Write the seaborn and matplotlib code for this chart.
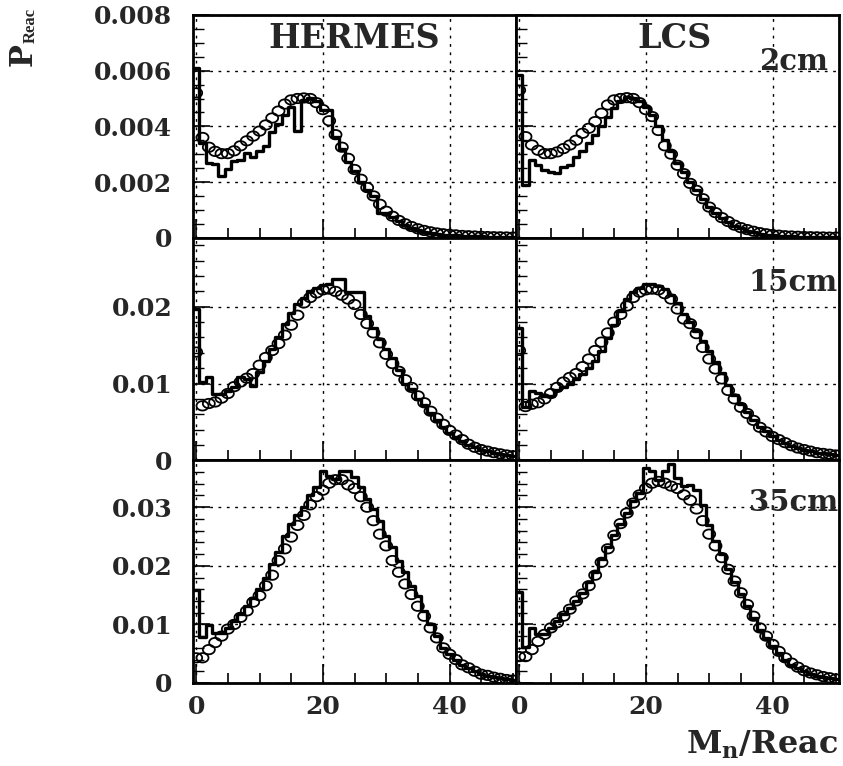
import numpy as np
import pandas as pd
import matplotlib
matplotlib.use("Agg")
import matplotlib.pyplot as plt
import seaborn as sns
from matplotlib.path import Path
from matplotlib.ticker import MultipleLocator, FuncFormatter

# neutron multiplicity per reaction (bins 0..50)
mult = np.arange(0, 51)

# values in units of 1e-3
hermes_2cm_hist = [6.1, 3.4, 2.7, 2.65, 2.2, 2.45, 2.75, 2.8, 3.05, 2.9, 3.1, 3.3, 3.8, 4.1, 4.4, 4.7,
                   3.85, 4.95, 5.0, 4.9, 4.6, 4.6, 3.6, 3.2, 2.72, 2.4, 2.0, 1.7, 1.5, 0.88, 0.88, 0.75,
                   0.6, 0.45, 0.35, 0.28, 0.22, 0.17, 0.13, 0.11, 0.09, 0.08, 0.07, 0.06, 0.05, 0.05, 0.04,
                   0.04, 0.03, 0.03, 0.03]
hermes_2cm_model = [5.2, 3.6, 3.25, 3.1, 3.02, 3.02, 3.12, 3.3, 3.48, 3.65, 3.83, 4.05, 4.3, 4.55, 4.8,
                    4.95, 5.0, 5.02, 5.0, 4.85, 4.6, 4.2, 3.7, 3.25, 2.85, 2.45, 2.1, 1.8, 1.5, 1.2, 0.95,
                    0.77, 0.62, 0.5, 0.4, 0.32, 0.26, 0.21, 0.17, 0.14, 0.12, 0.1, 0.08, 0.07, 0.06, 0.05,
                    0.04, 0.035, 0.03, 0.025, 0.02]
lcs_2cm_hist = [5.86, 1.88, 2.78, 2.6, 2.42, 2.36, 2.33, 2.55, 2.6, 2.9, 3.1, 3.4, 3.7, 4.0, 4.35, 4.65,
                4.9, 5.05, 5.0, 4.9, 4.7, 4.4, 4.0, 3.5, 3.1, 2.7, 2.35, 2.0, 1.7, 1.4, 1.1, 0.9, 0.72,
                0.56, 0.43, 0.33, 0.25, 0.19, 0.14, 0.11, 0.09, 0.07, 0.06, 0.05, 0.04, 0.035, 0.03,
                0.025, 0.02, 0.02, 0.015]
lcs_2cm_model = [5.3, 3.63, 3.33, 3.14, 3.02, 3.02, 3.08, 3.2, 3.33, 3.5, 3.75, 3.93, 4.17, 4.47, 4.77,
                 4.95, 5.0, 5.03, 5.0, 4.85, 4.6, 4.35, 3.85, 3.3, 3.0, 2.6, 2.3, 1.95, 1.7, 1.4, 1.1,
                 0.9, 0.72, 0.58, 0.45, 0.36, 0.29, 0.23, 0.18, 0.14, 0.11, 0.09, 0.07, 0.06, 0.05, 0.04,
                 0.035, 0.03, 0.025, 0.02, 0.02]
hermes_15cm_hist = [19.7, 10.2, 10.9, 8.6, 8.6, 9.0, 9.5, 10.8, 10.6, 9.7, 11.5, 13.0, 14.5, 16.0, 17.7,
                    19.2, 20.3, 21.2, 22.0, 22.5, 22.9, 23.0, 23.6, 23.6, 21.9, 21.9, 21.9, 18.8, 17.3,
                    15.8, 14.5, 13.3, 11.8, 10.0, 9.3, 8.0, 7.2, 6.2, 5.2, 4.4, 3.6, 3.0, 2.5, 2.0, 1.7,
                    1.4, 1.2, 1.0, 0.85, 0.7, 0.6]
hermes_15cm_model = [14.1, 7.1, 7.4, 7.6, 8.1, 8.7, 9.6, 10.2, 10.7, 11.3, 12.4, 13.4, 14.3, 15.2, 16.3,
                     17.6, 18.9, 20.5, 21.2, 21.8, 22.2, 22.3, 22.0, 21.5, 21.0, 20.3, 19.0, 17.8, 16.6,
                     15.3, 13.8, 12.6, 11.6, 10.5, 9.5, 8.4, 7.5, 6.4, 5.5, 4.7, 3.9, 3.3, 2.7, 2.1, 1.7,
                     1.4, 1.2, 1.0, 0.85, 0.7, 0.6]
lcs_15cm_hist = [17.3, 7.0, 9.0, 8.8, 8.4, 8.4, 9.2, 9.6, 10.0, 10.6, 11.3, 12.0, 13.0, 14.3, 15.9, 17.6,
                 19.5, 21.0, 21.9, 22.5, 23.0, 23.0, 22.7, 22.3, 21.5, 20.5, 19.0, 18.0, 16.8, 15.5, 14.3,
                 12.8, 11.4, 9.8, 8.5, 7.3, 6.3, 5.2, 4.4, 3.8, 3.2, 2.7, 2.3, 1.9, 1.6, 1.4, 1.2, 1.0,
                 0.9, 0.8, 0.7]
lcs_15cm_model = [14.3, 7.0, 7.3, 7.5, 8.0, 8.7, 9.5, 10.2, 10.8, 11.3, 12.2, 13.2, 14.3, 15.4, 16.6, 18.0,
                  19.0, 20.1, 21.2, 21.9, 22.2, 22.3, 22.2, 21.7, 21.0, 19.7, 18.4, 17.8, 16.5, 14.7, 13.2,
                  11.9, 10.6, 9.1, 8.0, 6.9, 6.1, 5.2, 4.3, 3.7, 3.1, 2.7, 2.3, 1.9, 1.6, 1.4, 1.2, 1.0,
                  0.9, 0.8, 0.7]
hermes_35cm_hist = [15.9, 7.9, 9.9, 8.5, 8.5, 9.4, 10.5, 11.7, 13.1, 14.5, 16.0, 18.0, 20.3, 22.3, 25.1,
                    27.1, 28.6, 30.0, 32.0, 33.4, 36.2, 35.4, 34.8, 36.2, 36.2, 35.1, 33.4, 31.4, 29.7,
                    27.7, 25.1, 23.2, 20.9, 18.9, 16.6, 14.9, 12.3, 10.0, 8.0, 6.0, 4.9, 4.0, 3.1, 2.6,
                    2.0, 1.5, 1.2, 1.0, 0.8, 0.6, 0.5]
hermes_35cm_model = [4.3, 4.3, 5.7, 6.9, 8.0, 9.2, 10.0, 11.2, 12.3, 13.8, 14.9, 16.6, 18.4, 20.9, 22.9,
                     24.9, 26.9, 28.6, 30.4, 31.8, 32.9, 34.1, 34.7, 34.7, 33.8, 33.2, 31.8, 30.0, 27.7,
                     25.4, 23.4, 20.9, 18.9, 16.9, 15.1, 13.1, 11.4, 9.4, 7.7, 6.0, 4.9, 4.0, 3.1, 2.6,
                     2.0, 1.5, 1.3, 1.0, 0.8, 0.6, 0.5]
lcs_35cm_hist = [15.6, 6.2, 9.4, 8.3, 8.3, 9.4, 10.5, 11.7, 12.8, 14.0, 15.4, 17.2, 18.9, 21.2, 23.2, 25.2,
                 27.2, 29.0, 31.0, 32.4, 36.7, 36.2, 34.7, 36.2, 37.3, 35.0, 33.6, 33.8, 33.0, 30.3, 26.9,
                 24.3, 22.0, 19.5, 17.2, 15.2, 13.1, 11.1, 9.1, 7.7, 6.3, 5.2, 4.0, 3.1, 2.6, 2.0, 1.5,
                 1.2, 1.0, 0.8, 0.6]
lcs_35cm_model = [4.5, 4.5, 5.7, 7.1, 8.3, 9.4, 10.3, 11.4, 12.6, 14.0, 15.2, 16.6, 18.4, 20.6, 22.9, 25.2,
                  27.2, 29.0, 30.7, 32.1, 33.2, 34.1, 34.4, 34.1, 33.6, 33.2, 32.1, 31.2, 29.7, 27.7, 25.4,
                  23.4, 21.4, 19.4, 17.4, 15.4, 13.4, 11.4, 9.4, 8.0, 6.6, 5.4, 4.3, 3.4, 2.7, 2.1, 1.7,
                  1.4, 1.1, 0.9, 0.7]

column_titles = ["HERMES", "LCS"]
row_labels = ["2cm", "15cm", "35cm"]
row_ylims = [0.008, 0.029, 0.038]
row_major = [0.002, 0.01, 0.01]
row_minor = [0.0005, 0.002, 0.002]

hists = [[hermes_2cm_hist, lcs_2cm_hist],
         [hermes_15cm_hist, lcs_15cm_hist],
         [hermes_35cm_hist, lcs_35cm_hist]]
models = [[hermes_2cm_model, lcs_2cm_model],
          [hermes_15cm_model, lcs_15cm_model],
          [hermes_35cm_model, lcs_35cm_model]]
scale = 1e-3

sns.set_style("ticks")
plt.rcParams["font.family"] = ["DejaVu Serif"]
plt.rcParams["font.weight"] = "bold"
plt.rcParams["mathtext.fontset"] = "dejavuserif"

W, H = 843, 766
fig, axes = plt.subplots(3, 2, figsize=(W / 100, H / 100), dpi=100,
                         gridspec_kw=dict(left=193 / W, right=839 / W, top=1 - 15 / H,
                                          bottom=1 - 683 / H, wspace=0, hspace=0))

theta = np.linspace(0, 2 * np.pi, 41)
ellipse = Path(np.column_stack([np.cos(theta), 0.78 * np.sin(theta)]), closed=True)
yfmt = FuncFormatter(lambda v, p: "0" if abs(v) < 1e-12 else f"{v:g}")

for r in range(3):
    for c in range(2):
        ax = axes[r, c]
        df = pd.DataFrame({"mult": mult,
                           "hist": np.asarray(hists[r][c], dtype=float) * scale,
                           "model": np.asarray(models[r][c], dtype=float) * scale})
        sns.histplot(data=df, x="mult", weights="hist", binwidth=1, binrange=(-0.5, 50.5),
                     element="step", fill=False, color="black", linewidth=2.4, ax=ax)
        sns.scatterplot(data=df, x="mult", y="model", marker=ellipse, s=75, facecolor="none",
                        edgecolor="black", linewidth=1.3, ax=ax, zorder=4)
        ax.set_xlim(-0.5, 50.5)
        ax.set_ylim(0, row_ylims[r])
        ax.set_xlabel("")
        ax.set_ylabel("")
        ax.xaxis.set_major_locator(MultipleLocator(20))
        ax.xaxis.set_minor_locator(MultipleLocator(5))
        ax.yaxis.set_major_locator(MultipleLocator(row_major[r]))
        ax.yaxis.set_minor_locator(MultipleLocator(row_minor[r]))
        ax.yaxis.set_major_formatter(yfmt)
        ax.grid(True, which="major", color="black", linestyle=(0, (2, 4)), linewidth=1.0)
        ax.set_axisbelow(True)
        ax.tick_params(which="both", direction="in", top=False, right=False, color="black")
        ax.tick_params(axis="x", which="major", length=14, width=1.2, pad=9, labelsize=18)
        ax.tick_params(axis="x", which="minor", length=7, width=1.2)
        ax.tick_params(axis="y", which="major", length=12, width=1.2, pad=15, labelsize=18)
        ax.tick_params(axis="y", which="minor", length=8, width=1.0)
        for sp in ax.spines.values():
            sp.set_linewidth(2.0)
            sp.set_color("black")
        if c == 1:
            ax.tick_params(axis="y", labelleft=False)
        if r < 2:
            ax.tick_params(axis="x", labelbottom=False)
        for lab in ax.get_xticklabels() + ax.get_yticklabels():
            lab.set_fontweight("bold")

axes[0, 0].text(0.5, 0.896, column_titles[0], transform=axes[0, 0].transAxes,
                ha="center", va="center", fontsize=24, fontweight="bold")
axes[0, 1].text(0.49, 0.896, column_titles[1], transform=axes[0, 1].transAxes,
                ha="center", va="center", fontsize=24, fontweight="bold")
axes[0, 1].text(0.966, 0.79, row_labels[0], transform=axes[0, 1].transAxes,
                ha="right", va="center", fontsize=21, fontweight="bold")
axes[1, 1].text(0.997, 0.80, row_labels[1], transform=axes[1, 1].transAxes,
                ha="right", va="center", fontsize=21, fontweight="bold")
axes[2, 1].text(0.997, 0.81, row_labels[2], transform=axes[2, 1].transAxes,
                ha="right", va="center", fontsize=21, fontweight="bold")

# y-axis label: P with subscript "Reac" (rotated)
fig.text(23 / W, 1 - 66 / H, "P", rotation=90, ha="center", va="bottom",
         fontsize=22, fontweight="bold")
fig.text(31 / W, 1 - 43 / H, "Reac", rotation=90, ha="center", va="bottom",
         fontsize=12, fontweight="bold", family="Liberation Serif")
fig.text(838 / W, 1 - 745 / H, r"$\mathbf{M}_{\mathbf{n}}\mathbf{/Reac}$",
         ha="right", va="center", fontsize=23)

fig.savefig("out.png", dpi=100)
